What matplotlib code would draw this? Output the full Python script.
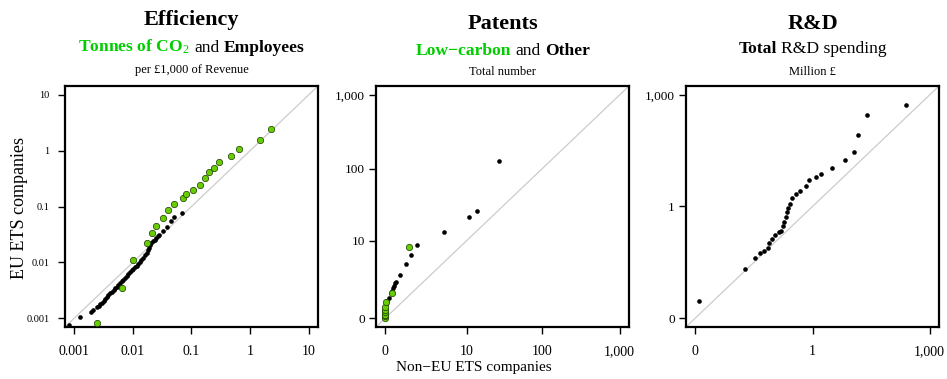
import numpy as np
import matplotlib
matplotlib.use("Agg")
from matplotlib import pyplot as plt

plt.rcParams['font.family'] = ['Liberation Serif', 'DejaVu Serif']
plt.rcParams['mathtext.fontset'] = 'custom'
plt.rcParams['mathtext.rm'] = 'Liberation Serif'
plt.rcParams['mathtext.it'] = 'Liberation Serif:italic'
plt.rcParams['mathtext.bf'] = 'Liberation Serif:bold'

GREEN_TXT = '#00CD00'
GREEN_PT = '#66CD00'

# ---- Efficiency (quantiles: non-EU ETS on x, EU ETS on y)
eff_emp_x = [0.00080, 0.00124, 0.00194, 0.00205, 0.00243, 0.00259, 0.00276, 0.00295,
             0.00315, 0.00336, 0.00358, 0.00382, 0.00407, 0.00435, 0.00466, 0.00497,
             0.0053, 0.0056, 0.0060, 0.0064, 0.00687, 0.0073, 0.00782, 0.0083, 0.0089,
             0.0095, 0.0102, 0.0108, 0.0116, 0.0123, 0.0132, 0.0140, 0.0150, 0.0160,
             0.0171, 0.0179, 0.0187, 0.0197, 0.0207, 0.0221, 0.0236, 0.0252, 0.0270,
             0.0284, 0.0331, 0.0383, 0.0453, 0.0496, 0.0697]
eff_emp_y = [0.00075, 0.00106, 0.00130, 0.00137, 0.00155, 0.00165, 0.00176, 0.00188,
             0.00201, 0.00218, 0.00237, 0.00257, 0.00279, 0.00297, 0.00316, 0.00339,
             0.00364, 0.00395, 0.00429, 0.00459, 0.00491, 0.00533, 0.00578, 0.00624,
             0.00674, 0.0072, 0.0077, 0.0082, 0.00873, 0.0094, 0.0100, 0.0110, 0.0120,
             0.0133, 0.0147, 0.0163, 0.0181, 0.0200, 0.0222, 0.0238, 0.0254, 0.0272,
             0.0291, 0.0308, 0.0358, 0.0434, 0.0548, 0.0646, 0.0750]
eff_co2_x = [0.0024, 0.0066, 0.010, 0.0174, 0.021, 0.025, 0.032, 0.039, 0.051, 0.072,
             0.081, 0.105, 0.138, 0.17, 0.20, 0.245, 0.29, 0.48, 0.65, 1.45, 2.3]
eff_co2_y = [0.00083, 0.0035, 0.011, 0.0224, 0.033, 0.044, 0.062, 0.087, 0.11, 0.14,
             0.17, 0.195, 0.245, 0.32, 0.41, 0.50, 0.62, 0.79, 1.06, 1.55, 2.45]
eff_ticks = [0.001, 0.01, 0.1, 1, 10]
eff_labels = ['0.001', '0.01', '0.1', '1', '10']

# ---- Patents
pat_oth_x = [0, 0, 0, 0.02, 0.06, 0.11, 0.17, 0.20, 0.25, 0.29, 0.33, 0.38, 0.55, 0.83,
             1.12, 1.53, 4.6, 10.7, 13.8, 27.8]
pat_oth_y = [0, 0.15, 0.3, 0.54, 0.71, 0.87, 1.14, 1.32, 1.52, 1.70, 1.92, 2.1, 2.77,
             4.4, 5.97, 8.7, 13.2, 21.5, 26.9, 127]
pat_low_x = [0, 0, 0, 0, 0, 0, 0.03, 0.2, 1.0]
pat_low_y = [0, 0.05, 0.1, 0.2, 0.3, 0.4, 0.65, 1.18, 7.9]
pat_ticks = [0, 10, 100, 1000]
pat_labels = ['0', '10', '100', '1,000']

# ---- R&D
rd_x = [0.00024, 0.0180, 0.0333, 0.0439, 0.0548, 0.0696, 0.0752, 0.0900, 0.1076, 0.1364,
        0.1536, 0.1700, 0.1835, 0.2027, 0.2153, 0.2286, 0.2682, 0.2894, 0.3663, 0.4832,
        0.6612, 0.823, 1.213, 1.629, 3.25, 6.85, 11.64, 14.4, 25.5, 253]
rd_y = [0.0018, 0.020, 0.0405, 0.055, 0.063, 0.076, 0.104, 0.130, 0.166, 0.20, 0.223,
        0.29, 0.388, 0.529, 0.707, 0.938, 1.2, 1.71, 2.15, 2.68, 3.66, 5.1, 6.14, 7.5,
        11.1, 17.8, 29.7, 81.7, 281, 552]
rd_ticks = [0, 1, 1000]
rd_labels = ['0', '1', '1,000']


def log1p10(x):
    return np.log10(np.clip(np.asarray(x, float) + 1, 1e-9, None))

def inv_log1p10(y):
    return 10 ** np.asarray(y, float) - 1

def logk(x):
    return np.log10(np.clip(np.asarray(x, float) + 0.001, 1e-12, None))

def inv_logk(y):
    return 10 ** np.asarray(y, float) - 0.001


W, H = 947, 379
fig = plt.figure(figsize=(W / 100, H / 100), dpi=100)

def px_axes(x0, x1, y0, y1):
    return fig.add_axes([x0 / W, 1 - y1 / H, (x1 - x0) / W, (y1 - y0) / H])

ax1 = px_axes(65, 318, 86, 327)
ax2 = px_axes(376, 629, 86, 327)
ax3 = px_axes(686, 939, 86, 327)

ax1.set_xscale('log')
ax1.set_yscale('log')
for a, f, g in [(ax2, log1p10, inv_log1p10), (ax3, logk, inv_logk)]:
    a.set_xscale('function', functions=(f, g))
    a.set_yscale('function', functions=(f, g))

lim1 = (10 ** -3.16, 10 ** 1.16)
lim2 = (inv_log1p10(-0.12), inv_log1p10(3.12))
lim3 = (inv_logk(-3.24), inv_logk(3.24))

for a, lim, ticks, labels, ysize in [(ax1, lim1, eff_ticks, eff_labels, 7.5),
                                      (ax2, lim2, pat_ticks, pat_labels, 9.5),
                                      (ax3, lim3, rd_ticks, rd_labels, 9.5)]:
    a.plot(lim, lim, color='#cccccc', lw=0.9, zorder=1)
    a.set_xlim(lim)
    a.set_ylim(lim)
    a.set_xticks(ticks)
    a.set_xticklabels(labels)
    a.set_yticks(ticks)
    a.set_yticklabels(labels)
    a.minorticks_off()
    a.tick_params(axis='both', direction='out', length=5, width=1.0, color='black')
    a.tick_params(axis='x', labelsize=10, pad=8)
    a.tick_params(axis='y', labelsize=ysize, pad=3)
    for s in a.spines.values():
        s.set_linewidth(1.6)

ax1.tick_params(axis='y', pad=6)

ax1.scatter(eff_emp_x, eff_emp_y, s=11, color='black', lw=0, zorder=3)
ax1.scatter(eff_co2_x, eff_co2_y, s=21, color=GREEN_PT, edgecolors='#1a3a00', lw=0.5, zorder=4)
ax2.scatter(pat_oth_x, pat_oth_y, s=11, color='black', lw=0, zorder=3)
ax2.scatter(pat_low_x, pat_low_y, s=21, color=GREEN_PT, edgecolors='#1a3a00', lw=0.5, zorder=4)
ax3.scatter(rd_x, rd_y, s=11, color='black', lw=0, zorder=3)

renderer = fig.canvas.get_renderer()

def piece_line(xc, ybase, pieces, size):
    # pieces: (text, colour, weight); placed side by side, centred on xc (pixels)
    ts = []
    for s, c, w in pieces:
        ts.append(fig.text(0, 1 - ybase / H, s, color=c, fontweight=w, fontsize=size,
                           ha='left', va='baseline'))
    widths = [t.get_window_extent(renderer).width for t in ts]
    gap = 0.25 * size * 100 / 72
    total = sum(widths) + gap * (len(ts) - 1)
    x = xc - total / 2
    for t, wd in zip(ts, widths):
        t.set_x(x / W)
        x += wd + gap

centres = [191.5, 502.5, 812.5]
titles = ['Efficiency', 'Patents', 'R&D']
title_base = [25, 29, 29]
for xc, t, yb in zip(centres, titles, title_base):
    fig.text(xc / W, 1 - yb / H, t, fontsize=16, fontweight='bold', ha='center', va='baseline')

piece_line(centres[0], 52, [('Tonnes of CO$_2$', GREEN_TXT, 'bold'), ('and', 'black', 'normal'),
                            ('Employees', 'black', 'bold')], 12.6)
piece_line(centres[1], 55, [('Low\u2212carbon', GREEN_TXT, 'bold'), ('and', 'black', 'normal'),
                            ('Other', 'black', 'bold')], 12.6)
piece_line(centres[2], 53, [('Total', 'black', 'bold'), ('R&D spending', 'black', 'normal')], 12.6)

sub3 = ['per \u00a31,000 of Revenue', 'Total number', 'Million \u00a3']
sub3_base = [73, 75, 75]
for xc, t, yb in zip(centres, sub3, sub3_base):
    fig.text(xc / W, 1 - yb / H, t, fontsize=9, ha='center', va='baseline')

fig.text(19.5 / W, 1 - 208 / H, 'EU ETS companies', rotation=90, fontsize=13,
         ha='center', va='center')
fig.text(474 / W, 1 - 367 / H, 'Non\u2212EU ETS companies', fontsize=11,
         ha='center', va='center')

fig.savefig('out.png', dpi=100)
